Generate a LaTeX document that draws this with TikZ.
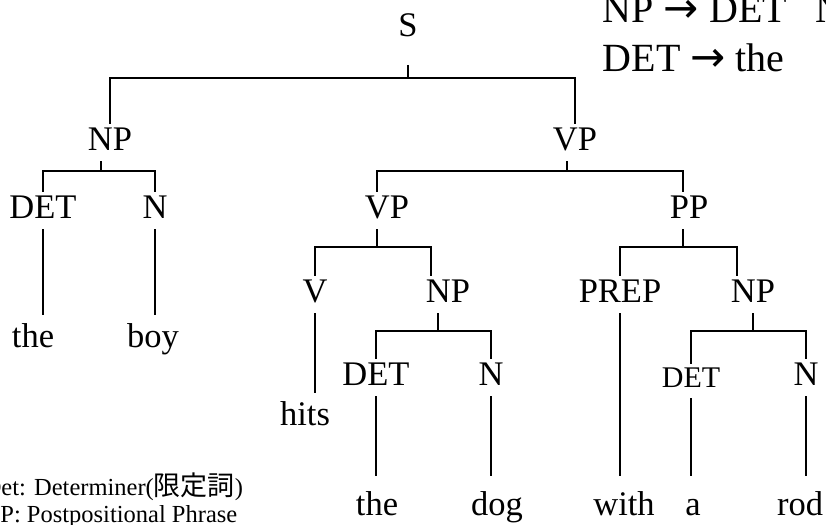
\documentclass[tikz,border=0pt]{standalone}
\usepackage{fontspec}
\setmainfont{Liberation Serif}
\newfontfamily\cjk{Noto Sans CJK JP}
\newfontfamily\arrowfont{DejaVu Sans}

\tikzset{
  catnode/.style={inner sep=0pt,outer xsep=0pt,outer ysep=3pt,text height=23pt,text depth=8pt,anchor=base},
  wordnode/.style={inner sep=0pt,outer xsep=0pt,outer ysep=9pt,text height=23pt,text depth=0pt,anchor=base},
  rulenode/.style={inner sep=0pt,anchor=base west,font=\fontsize{40}{44}\selectfont},
  notenode/.style={inner sep=0pt,anchor=base west,font=\fontsize{24.5}{28}\selectfont},
}
\newcommand\ruleto{{\arrowfont\fontsize{42}{44}\selectfont →}}

\begin{document}
\begin{tikzpicture}[x=1pt,y=-1pt,line width=1.6pt,font=\fontsize{34.5}{40}\selectfont]
\useasboundingbox (0,0) rectangle (826,524);
% categories
\node[catnode] (S) at (408,37) {S};
\node[catnode] (NPa) at (110,150) {NP};
\node[catnode] (VPa) at (575,150) {VP};
\node[catnode] (DETa) at (43,218) {DET};
\node[catnode] (Na) at (155,218) {N};
\node[catnode] (VPb) at (387,218) {VP};
\node[catnode] (PP) at (689,218) {PP};
\node[catnode] (V) at (315,302) {V};
\node[catnode] (NPb) at (448,302) {NP};
\node[catnode] (PREP) at (620,302) {PREP};
\node[catnode] (NPc) at (753,302) {NP};
\node[catnode] (DETb) at (376,385) {DET};
\node[catnode] (Nb) at (491,385) {N};
\node[catnode,text height=20pt,font=\fontsize{30}{36}\selectfont] (DETc) at (691,387) {DET};
\node[catnode] (Nc) at (806,385) {N};
% words
\node[wordnode] (theA) at (33,347) {the};
\node[wordnode] (boy) at (153,347) {boy};
\node[wordnode] (hits) at (305,425) {hits};
\node[wordnode,outer ysep=16pt] (theB) at (377,515) {the};
\node[wordnode,outer ysep=16pt] (dog) at (497,515) {dog};
\node[wordnode,outer ysep=16pt] (with) at (624,515) {with};
\node[wordnode,outer ysep=16pt] (a) at (693,515) {a};
\node[wordnode,outer ysep=16pt] (rod) at (800,515) {rod};
% rules and notes
\node[rulenode] (ruleNP) at (602,23) {NP \ruleto{} DET\hspace{29pt}N};
\node[rulenode] (ruleDET) at (602,72) {DET \ruleto{} the};
\node[notenode] (noteDet) at (-17,495) {Det: Determiner({\cjk\fontsize{27}{28}\selectfont 限定詞})};
\node[notenode] (notePP) at (-14,522) {PP: Postpositional Phrase};

% branches
\draw ([yshift=-17pt]S.south) -- ++(0,13) -| (NPa.north);
\draw ([yshift=-17pt]S.south) ++(0,13) -| (VPa.north);
\draw ([xshift=-9pt]NPa.south) -- ++(0,10) -| (DETa.north);
\draw ([xshift=-9pt]NPa.south) ++(0,10) -| (Na.north);
\draw ([xshift=-8pt]VPa.south) -- ++(0,10) -| ([xshift=-10pt]VPb.north);
\draw ([xshift=-8pt]VPa.south) ++(0,10) -| ([xshift=-6pt]PP.north);
\draw ([xshift=-10pt]VPb.south) -- ++(0,18) -| (V.north);
\draw ([xshift=-10pt]VPb.south) ++(0,18) -| ([xshift=-17pt]NPb.north);
\draw ([xshift=-6pt]PP.south) -- ++(0,18) -| (PREP.north);
\draw ([xshift=-6pt]PP.south) ++(0,18) -| ([xshift=-16pt]NPc.north);
\draw ([xshift=-10pt]NPb.south) -- ++(0,18) -| (DETb.north);
\draw ([xshift=-10pt]NPb.south) ++(0,18) -| (Nb.north);
\draw (NPc.south) -- ++(0,18) -| (DETc.north);
\draw (NPc.south) ++(0,18) -| (Nc.north);
% unary
\draw (DETa.south) -- (theA.north -| DETa.south);
\draw (Na.south) -- (boy.north -| Na.south);
\draw (V.south) -- (hits.north -| V.south);
\draw (DETb.south) -- (theB.north -| DETb.south);
\draw (Nb.south) -- (dog.north -| Nb.south);
\draw (PREP.south) -- (with.north -| PREP.south);
\draw (DETc.south) -- (a.north -| DETc.south);
\draw (Nc.south) -- (rod.north -| Nc.south);
\end{tikzpicture}
\end{document}
